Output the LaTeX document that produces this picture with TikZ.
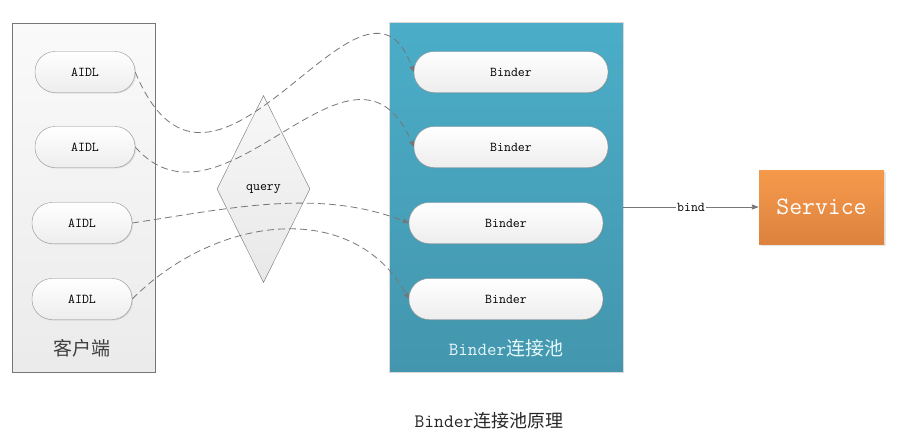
\documentclass[tikz,border=0pt]{standalone}
\usepackage{fontspec}
\newfontfamily\cjk{Noto Sans CJK SC}
\usetikzlibrary{arrows.meta,shapes.geometric,shadows}
\definecolor{linegray}{HTML}{777777}
\definecolor{pooltop}{HTML}{4BADC8}
\definecolor{poolbottom}{HTML}{4396AD}
\definecolor{servicetop}{HTML}{F59A4B}
\definecolor{servicebottom}{HTML}{DD823F}
\definecolor{poollabel}{HTML}{E6F7FB}
\begin{document}
\begin{tikzpicture}[x=1pt, y=-1pt,
    pill/.style={draw=linegray!80, rounded corners=20pt, minimum height=41pt,
      top color=white, bottom color=black!7, inner sep=0pt,
      drop shadow={opacity=0.2, shadow xshift=1pt, shadow yshift=-1pt},
      font=\ttfamily\fontsize{13.5}{16}\selectfont},
    link/.style={draw=linegray, line width=0.8pt, dash pattern=on 7pt off 4pt,
      -{Triangle[length=6pt, width=5pt]}}]%
   % Canvas: 1 unit = 1 px of the 899 x 447 image, y pointing down
   \useasboundingbox (0,0) rectangle (899,447);

   % Client side
   \node[draw=linegray, top color=black!2, bottom color=black!8,
     minimum width=143pt, minimum height=349pt] (client) at (83.5,197.5) {};
   \node[font=\cjk\fontsize{19}{22}\selectfont, text=black!75] (clientlabel) at (82,348) {客户端};

   % Binder pool
   \node[draw=black!15, top color=pooltop, bottom color=poolbottom,
     minimum width=234pt, minimum height=350pt] (pool) at (506,197) {};
   \node[text=poollabel] (poollabel) at (506,348)
     {{\ttfamily\fontsize{18.5}{22}\selectfont Binder}{\cjk\fontsize{19}{22}\selectfont 连接池}};

   % Query
   \node[diamond, draw=linegray, top color=black!3, bottom color=black!9,
     minimum width=93pt, minimum height=187pt, inner sep=0pt,
     font=\ttfamily\fontsize{13.5}{16}\selectfont] (query) at (263.5,189) {query};

   % AIDL and Binder pills
   \node[pill, minimum width=100pt] (aidl1) at (85,72) {AIDL};
   \node[pill, minimum width=100pt] (aidl2) at (85,147) {AIDL};
   \node[pill, minimum width=100pt] (aidl3) at (82,223) {AIDL};
   \node[pill, minimum width=100pt] (aidl4) at (82,299) {AIDL};
   \node[pill, minimum width=194pt] (binder1) at (511,72) {Binder};
   \node[pill, minimum width=194pt] (binder2) at (511,147) {Binder};
   \node[pill, minimum width=194pt] (binder3) at (506,223) {Binder};
   \node[pill, minimum width=194pt] (binder4) at (506,299) {Binder};

   % Dashed links AIDL -> Binder
   \draw[link] (aidl1.east) .. controls +(79,190) and +(-51,-140) .. (binder1.west);
   \draw[link] (aidl2.east) .. controls +(88,100) and +(-61,-140) .. (binder2.west);
   \draw[link] (aidl3.east) .. controls +(100,-15) and +(-90,-35) .. (binder3.west);
   \draw[link] (aidl4.east) .. controls +(85,-85) and +(-55,-100) .. (binder4.west);

   % Service
   \node[top color=servicetop, bottom color=servicebottom,
     minimum width=125pt, minimum height=74pt, text=white,
     drop shadow={opacity=0.2, shadow xshift=1.5pt, shadow yshift=-1.5pt},
     font=\ttfamily\fontsize{25}{28}\selectfont] (service) at (821.5,207) {Service};
   \draw[draw=linegray, line width=0.9pt, -{Triangle[length=7pt, width=5pt]}]
     (pool.east |- service.west) -- node[fill=white, inner sep=1pt,
     font=\ttfamily\fontsize{13.5}{16}\selectfont] (bindlabel) {bind} (service.west);

   % Caption
   \node[text=black!85] (caption) at (489,421)
     {{\ttfamily\fontsize{19}{22}\selectfont Binder}{\cjk\fontsize{18}{22}\selectfont 连接池原理}};
 \end{tikzpicture}
\end{document}
